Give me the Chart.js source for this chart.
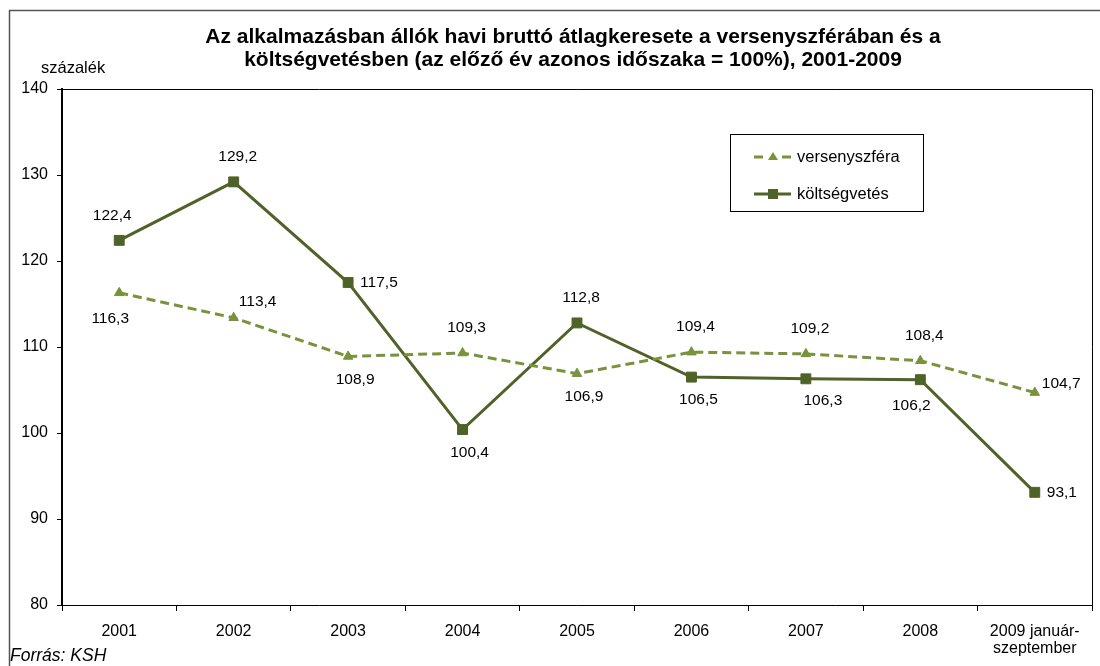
<!DOCTYPE html>
<html lang="hu">
<head>
<meta charset="utf-8">
<title>Bruttó átlagkereset 2001-2009</title>
<script src="https://cdn.jsdelivr.net/npm/chart.js@4.4.1/dist/chart.umd.min.js"></script>
<style>
  html, body { margin: 0; padding: 0; background: #fff; }
  #wrap { width: 1100px; height: 666px; }
</style>
</head>
<body>
<div id="wrap"><canvas id="chart" width="1100" height="666"></canvas></div>
<script>
// adatok
const evek = ["2001", "2002", "2003", "2004", "2005", "2006", "2007", "2008", ["2009 január-", "szeptember"]];
const versenyszfera = [116.3, 113.4, 108.9, 109.3, 106.9, 109.4, 109.2, 108.4, 104.7];
const koltsegvetes  = [122.4, 129.2, 117.5, 100.4, 112.8, 106.5, 106.3, 106.2, 93.1];
const yTicks = [80, 90, 100, 110, 120, 130, 140];

// címkék helye a pont körül
const cimkeHelyVerseny = ["belowLeft", "upRight", "below", "above", "below", "above", "above", "above", "rightUp"];
const cimkeHelyKoltseg = ["aboveLeft", "above", "right", "below", "above", "below", "belowRight", "belowLeft", "right"];

const SZIN_VILAGOS = "#77933C";
const SZIN_SOTET   = "#4F6228";
const FONT = '"Liberation Sans", Arial, sans-serif';

const helyek = {
  above:      { dx: 4,  dy: -25, align: "center" },
  below:      { dx: 7,  dy: 23,  align: "center" },
  aboveLeft:  { dx: -7, dy: -25, align: "center" },
  belowLeft:  { dx: -9, dy: 26,  align: "center" },
  belowRight: { dx: 17, dy: 22,  align: "center" },
  upRight:    { dx: 24, dy: -16, align: "center" },
  right:      { dx: 12, dy: 0,   align: "left" },
  rightUp:    { dx: 7,  dy: -9,  align: "left" }
};

// adatcímkék
const cimkek = {
  id: "cimkek",
  afterDatasetsDraw(chart) {
    const ctx = chart.ctx;
    ctx.save();
    ctx.font = "15.5px " + FONT;
    ctx.fillStyle = "#000";
    ctx.textBaseline = "middle";
    chart.data.datasets.forEach((ds, i) => {
      const meta = chart.getDatasetMeta(i);
      meta.data.forEach((pt, j) => {
        const h = helyek[ds.cimkeHely[j]];
        ctx.textAlign = h.align;
        ctx.fillText(ds.data[j].toFixed(1).replace(".", ","), pt.x + h.dx, pt.y + h.dy);
      });
    });
    ctx.restore();
  }
};

// keret, cím, jelmagyarázat, forrás
const diszites = {
  id: "diszites",
  afterDraw(chart) {
    const ctx = chart.ctx;
    const a = chart.chartArea;
    ctx.save();

    // külső keret
    ctx.strokeStyle = "#555";
    ctx.lineWidth = 1.5;
    ctx.strokeRect(9.5, 10.5, 1200, 800);

    // rajzterület kerete
    ctx.strokeStyle = "#000";
    ctx.lineWidth = 1;
    ctx.beginPath();
    ctx.moveTo(a.left, Math.round(a.top) + 0.5);
    ctx.lineTo(Math.round(a.right) + 0.5, Math.round(a.top) + 0.5);
    ctx.lineTo(Math.round(a.right) + 0.5, a.bottom);
    ctx.stroke();

    // cím
    ctx.fillStyle = "#000";
    ctx.textAlign = "center";
    ctx.textBaseline = "middle";
    ctx.font = "bold 21px " + FONT;
    ctx.fillText("Az alkalmazásban állók havi bruttó átlagkeresete a versenyszférában és a", 573, 37);
    ctx.fillText("költségvetésben (az előző év azonos időszaka = 100%), 2001-2009", 573, 60);

    // tengelyfelirat
    ctx.font = "16.5px " + FONT;
    ctx.textAlign = "left";
    ctx.fillText("százalék", 41, 68);

    // forrás
    ctx.font = "italic 17.5px " + FONT;
    ctx.fillText("Forrás: KSH", 10, 656);

    // jelmagyarázat
    ctx.strokeStyle = "#000";
    ctx.lineWidth = 1;
    ctx.strokeRect(730.5, 134.5, 193, 77);

    // versenyszféra
    ctx.strokeStyle = SZIN_VILAGOS;
    ctx.fillStyle = SZIN_VILAGOS;
    ctx.lineWidth = 3;
    ctx.beginPath();
    ctx.moveTo(754, 157); ctx.lineTo(763, 157);
    ctx.moveTo(782, 157); ctx.lineTo(791, 157);
    ctx.stroke();
    ctx.beginPath();
    ctx.moveTo(773, 152); ctx.lineTo(778, 160); ctx.lineTo(768, 160);
    ctx.closePath();
    ctx.fill();

    // költségvetés
    ctx.strokeStyle = SZIN_SOTET;
    ctx.fillStyle = SZIN_SOTET;
    ctx.beginPath();
    ctx.moveTo(754, 194); ctx.lineTo(791, 194);
    ctx.stroke();
    ctx.fillRect(768, 189, 10, 10);

    ctx.fillStyle = "#000";
    ctx.font = "16.5px " + FONT;
    ctx.textAlign = "left";
    ctx.fillText("versenyszféra", 797, 157);
    ctx.fillText("költségvetés", 797, 194);

    ctx.restore();
  }
};

new Chart(document.getElementById("chart").getContext("2d"), {
  type: "line",
  data: {
    labels: evek,
    datasets: [
      {
        label: "versenyszféra",
        data: versenyszfera,
        cimkeHely: cimkeHelyVerseny,
        borderColor: SZIN_VILAGOS,
        backgroundColor: SZIN_VILAGOS,
        borderWidth: 3,
        borderDash: [9, 5],
        tension: 0,
        pointStyle: "triangle",
        pointRadius: 5.5,
        pointBorderWidth: 1,
        pointBackgroundColor: SZIN_VILAGOS,
        pointBorderColor: SZIN_VILAGOS
      },
      {
        label: "költségvetés",
        data: koltsegvetes,
        cimkeHely: cimkeHelyKoltseg,
        borderColor: SZIN_SOTET,
        backgroundColor: SZIN_SOTET,
        borderWidth: 3,
        tension: 0,
        pointStyle: "rect",
        pointRadius: 7,
        pointBorderWidth: 1,
        pointBackgroundColor: SZIN_SOTET,
        pointBorderColor: SZIN_SOTET
      }
    ]
  },
  options: {
    responsive: false,
    animation: false,
    layout: { padding: { top: 89, right: 7, bottom: 0, left: 0 } },
    plugins: {
      legend: { display: false },
      title: { display: false },
      tooltip: { enabled: false }
    },
    scales: {
      x: {
        offset: true,
        grid: { offset: true, drawOnChartArea: false, drawTicks: true, tickLength: 6, color: "#000" },
        border: { display: true, color: "#000", width: 1 },
        ticks: { color: "#000", font: { family: FONT, size: 16, lineHeight: 1.05 }, padding: 12, maxRotation: 0, autoSkip: false },
        afterFit(scale) { scale.height = 61; }
      },
      y: {
        min: 80,
        max: 140,
        afterBuildTicks(scale) { scale.ticks = yTicks.map(v => ({ value: v })); },
        grid: { drawOnChartArea: false, drawTicks: true, tickLength: 5, color: "#000" },
        border: { display: true, color: "#000", width: 2 },
        ticks: { color: "#000", font: { family: FONT, size: 16 }, padding: 9 },
        afterFit(scale) { scale.width = 62; }
      }
    }
  },
  plugins: [cimkek, diszites]
});
</script>
</body>
</html>
